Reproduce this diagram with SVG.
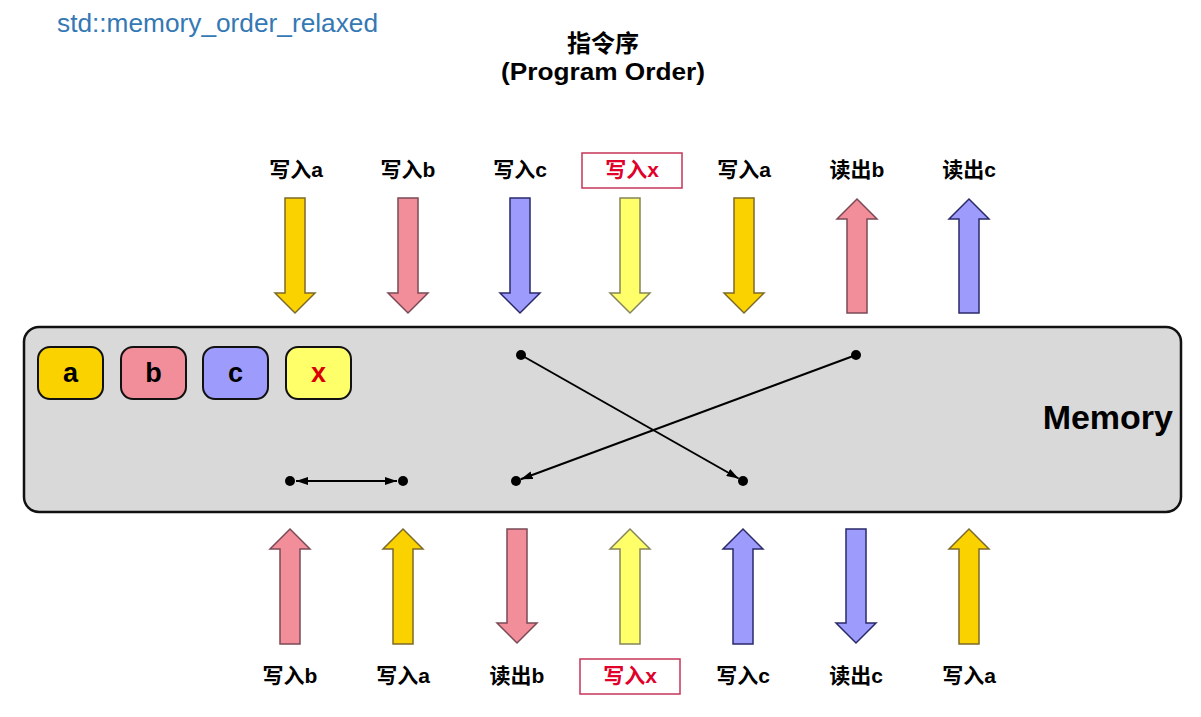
<svg xmlns="http://www.w3.org/2000/svg" width="1201" height="717" viewBox="0 0 1201 717">
<style>
.lbl{font-family:"Liberation Sans","Noto Sans CJK SC",sans-serif;font-weight:bold;font-size:21px;fill:#000;text-anchor:middle}
.red{fill:#e0002a}
.lblbox{fill:#fff;stroke:#c8345a;stroke-width:1.5}
.gold{fill:#f9d200;stroke:#7d6a2a;stroke-width:1.5}
.pink{fill:#f28d9a;stroke:#7a4a55;stroke-width:1.5}
.blue{fill:#9d9bfb;stroke:#2a2a6a;stroke-width:1.5}
.yel{fill:#ffff6a;stroke:#85855a;stroke-width:1.5}
.cellt{font-family:"Liberation Sans",sans-serif;font-weight:bold;font-size:27px;text-anchor:middle;fill:#000}
.ln{stroke:#000;stroke-width:2;fill:none}
.dot{fill:#000}
</style>
<defs>
<marker id="ah" viewBox="0 0 12 8" refX="12" refY="4" markerWidth="12" markerHeight="8" markerUnits="userSpaceOnUse" orient="auto-start-reverse">
<path d="M0,0 L12,4 L0,8 z" fill="#000"/>
</marker>
</defs>
<rect width="1201" height="717" fill="#fff"/>
<text x="57" y="32" font-family="Liberation Sans,sans-serif" font-size="25" fill="#3478b4" textLength="321" lengthAdjust="spacingAndGlyphs">std::memory_order_relaxed</text>
<text x="603" y="52" class="lbl" style="font-size:24px">指令序</text>
<text x="603" y="80" class="lbl" style="font-size:23px" textLength="204" lengthAdjust="spacingAndGlyphs">(Program Order)</text>

<g id="memory">
<rect x="24" y="327" width="1157" height="185" rx="15" fill="#d9d9d9" stroke="#111" stroke-width="2.5"/>
<text x="1173" y="429" text-anchor="end" font-family="Liberation Sans,sans-serif" font-weight="bold" font-size="34" fill="#000">Memory</text>
</g>
<g id="cell-a"><rect class="gold" x="38" y="347" width="65" height="52" rx="12" style="stroke:#111;stroke-width:2"/><text class="cellt" x="70.5" y="382">a</text></g>
<g id="cell-b"><rect class="pink" x="121" y="347" width="65" height="52" rx="12" style="stroke:#111;stroke-width:2"/><text class="cellt" x="153.5" y="382">b</text></g>
<g id="cell-c"><rect class="blue" x="203" y="347" width="65" height="52" rx="12" style="stroke:#111;stroke-width:2"/><text class="cellt" x="235.5" y="382">c</text></g>
<g id="cell-x"><rect class="yel" x="286" y="347" width="65" height="52" rx="12" style="stroke:#111;stroke-width:2"/><text class="cellt" x="318.5" y="382" style="fill:#d80000">x</text></g>

<g id="top-arrows">
<g id="t1"><text class="lbl" x="296" y="177">写入a</text><path class="gold" d="M285,198 H305 V293 H315 L295,313 L275,293 H285 Z"/></g>
<g id="t2"><text class="lbl" x="408" y="177">写入b</text><path class="pink" d="M398,198 H418 V293 H428 L408,313 L388,293 H398 Z"/></g>
<g id="t3"><text class="lbl" x="520" y="177">写入c</text><path class="blue" d="M510,198 H530 V293 H540 L520,313 L500,293 H510 Z"/></g>
<g id="t4"><rect class="lblbox" x="582" y="153" width="100" height="35"/><text class="lbl red" x="632" y="177">写入x</text><path class="yel" d="M620,198 H640 V293 H650 L630,313 L610,293 H620 Z"/></g>
<g id="t5"><text class="lbl" x="744" y="177">写入a</text><path class="gold" d="M734,198 H754 V293 H764 L744,313 L724,293 H734 Z"/></g>
<g id="t6"><text class="lbl" x="857" y="177">读出b</text><path class="pink" d="M847,313 H867 V219 H877 L857,199 L837,219 H847 Z"/></g>
<g id="t7"><text class="lbl" x="969" y="177">读出c</text><path class="blue" d="M959,313 H979 V219 H989 L969,199 L949,219 H959 Z"/></g>
</g>

<g id="bottom-arrows">
<g id="b1"><path class="pink" d="M280,644 H300 V549 H310 L290,529 L270,549 H280 Z"/><text class="lbl" x="290" y="683">写入b</text></g>
<g id="b2"><path class="gold" d="M393,644 H413 V549 H423 L403,529 L383,549 H393 Z"/><text class="lbl" x="403" y="683">写入a</text></g>
<g id="b3"><path class="pink" d="M507,529 H527 V623 H537 L517,643 L497,623 H507 Z"/><text class="lbl" x="517" y="683">读出b</text></g>
<g id="b4"><path class="yel" d="M620,644 H640 V549 H650 L630,529 L610,549 H620 Z"/><rect class="lblbox" x="580" y="659" width="100" height="35"/><text class="lbl red" x="630" y="683">写入x</text></g>
<g id="b5"><path class="blue" d="M733,644 H753 V549 H763 L743,529 L723,549 H733 Z"/><text class="lbl" x="743" y="683">写入c</text></g>
<g id="b6"><path class="blue" d="M846,529 H866 V623 H876 L856,643 L836,623 H846 Z"/><text class="lbl" x="856" y="683">读出c</text></g>
<g id="b7"><path class="gold" d="M959,644 H979 V549 H989 L969,529 L949,549 H959 Z"/><text class="lbl" x="969" y="683">写入a</text></g>
</g>

<g id="connectors">
<line class="ln" x1="296" y1="481" x2="397" y2="481" marker-start="url(#ah)" marker-end="url(#ah)"/>
<line class="ln" x1="521" y1="355" x2="738.6" y2="478.5" marker-end="url(#ah)"/>
<line class="ln" x1="856" y1="355" x2="520.7" y2="479.3" marker-end="url(#ah)"/>
<circle class="dot" cx="290" cy="481" r="5"/>
<circle class="dot" cx="403" cy="481" r="5"/>
<circle class="dot" cx="521" cy="355" r="5"/>
<circle class="dot" cx="856" cy="355" r="5"/>
<circle class="dot" cx="516" cy="481" r="5"/>
<circle class="dot" cx="743" cy="481" r="5"/>
</g>
</svg>
